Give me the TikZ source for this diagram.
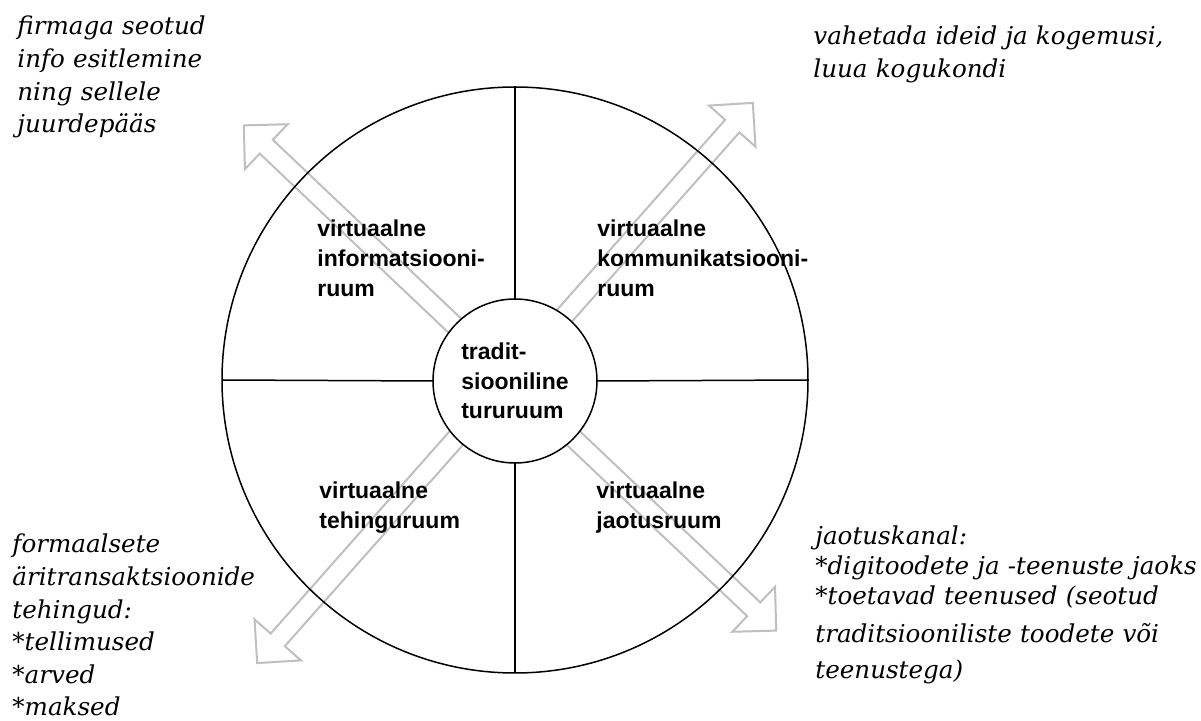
\documentclass[tikz,border=0pt]{standalone}
\usepackage{fontspec}
\setmainfont{DejaVu Serif}
\newfontfamily\labelfont{Liberation Sans}
\usetikzlibrary{shapes.arrows}

\begin{document}
\begin{tikzpicture}[x=0.5pt, y=-0.5pt,
    bigarrow/.style={double arrow, draw=black!25, line width=1pt, inner sep=4.25pt,
        double arrow head extend=10.75pt},
    quadlabel/.style={anchor=base west, inner sep=0pt, text width=130pt, align=left,
        font=\labelfont\bfseries\fontsize{11.5}{15}\selectfont},
    sidenote/.style={anchor=base west, inner sep=0pt, text width=200pt, align=left,
        font=\itshape\fontsize{12.3}{16.3}\selectfont}]
    \useasboundingbox (0,0) rectangle (1201,721);

    % Hollow double arrows (drawn first, circles cover them)
    \node[bigarrow, minimum height=367pt, rotate=-43.5] (infoarrow) at (510,378) {};
    \node[bigarrow, minimum height=374pt, rotate=48.5] (dealarrow) at (505,383) {};

    % Outer circle and the inner market circle
    \node[draw, circle, line width=0.75pt, minimum size=293pt, inner sep=0pt, outer sep=0pt] (outer) at (515,380) {};
    \node[draw, circle, fill=white, line width=0.75pt, minimum size=82pt, inner sep=0pt, outer sep=0pt,
        align=left, font=\labelfont\bfseries\fontsize{11.5}{14.8}\selectfont] (inner) at (515,381)
        {tradit-\\siooniline\\tururuum};

    % Quadrant lines
    \draw[line width=0.75pt] (outer.north) -- (inner.north);
    \draw[line width=0.75pt] (outer.south) -- (inner.south);
    \draw[line width=0.75pt] (outer.west) -- (inner.west);
    \draw[line width=0.75pt] (outer.east) -- (inner.east);

    % Quadrant labels
    \node[quadlabel] (infospace) at (317,237) {virtuaalne\\informatsiooni-\\ruum};
    \node[quadlabel] (commspace) at (597,237) {virtuaalne\\kommunikatsiooni-\\ruum};
    \node[quadlabel] (dealspace) at (319,499) {virtuaalne\\tehinguruum};
    \node[quadlabel] (distspace) at (596,499) {virtuaalne\\jaotusruum};

    % Notes at the arrow ends
    \node[sidenote] (infonote) at (17,35) {firmaga seotud\\info esitlemine\\ning sellele\\juurdepääs};
    \node[sidenote] (commnote) at (813,45) {vahetada ideid ja kogemusi,\\luua kogukondi};
    \node[sidenote] (dealnote) at (12,553)
        {formaalsete\\äritransaktsioonide\\tehingud:\\{}*tellimused\\{}*arved\\{}*maksed};
    \node[sidenote, font=\itshape\fontsize{12.3}{15}\selectfont] (distnote) at (815,545)
        {jaotuskanal:\\{}*digitoodete ja -teenuste jaoks\\{}*toetavad teenused (seotud\\[4pt]traditsiooniliste toodete või\\[3pt]teenustega)};
\end{tikzpicture}
\end{document}
